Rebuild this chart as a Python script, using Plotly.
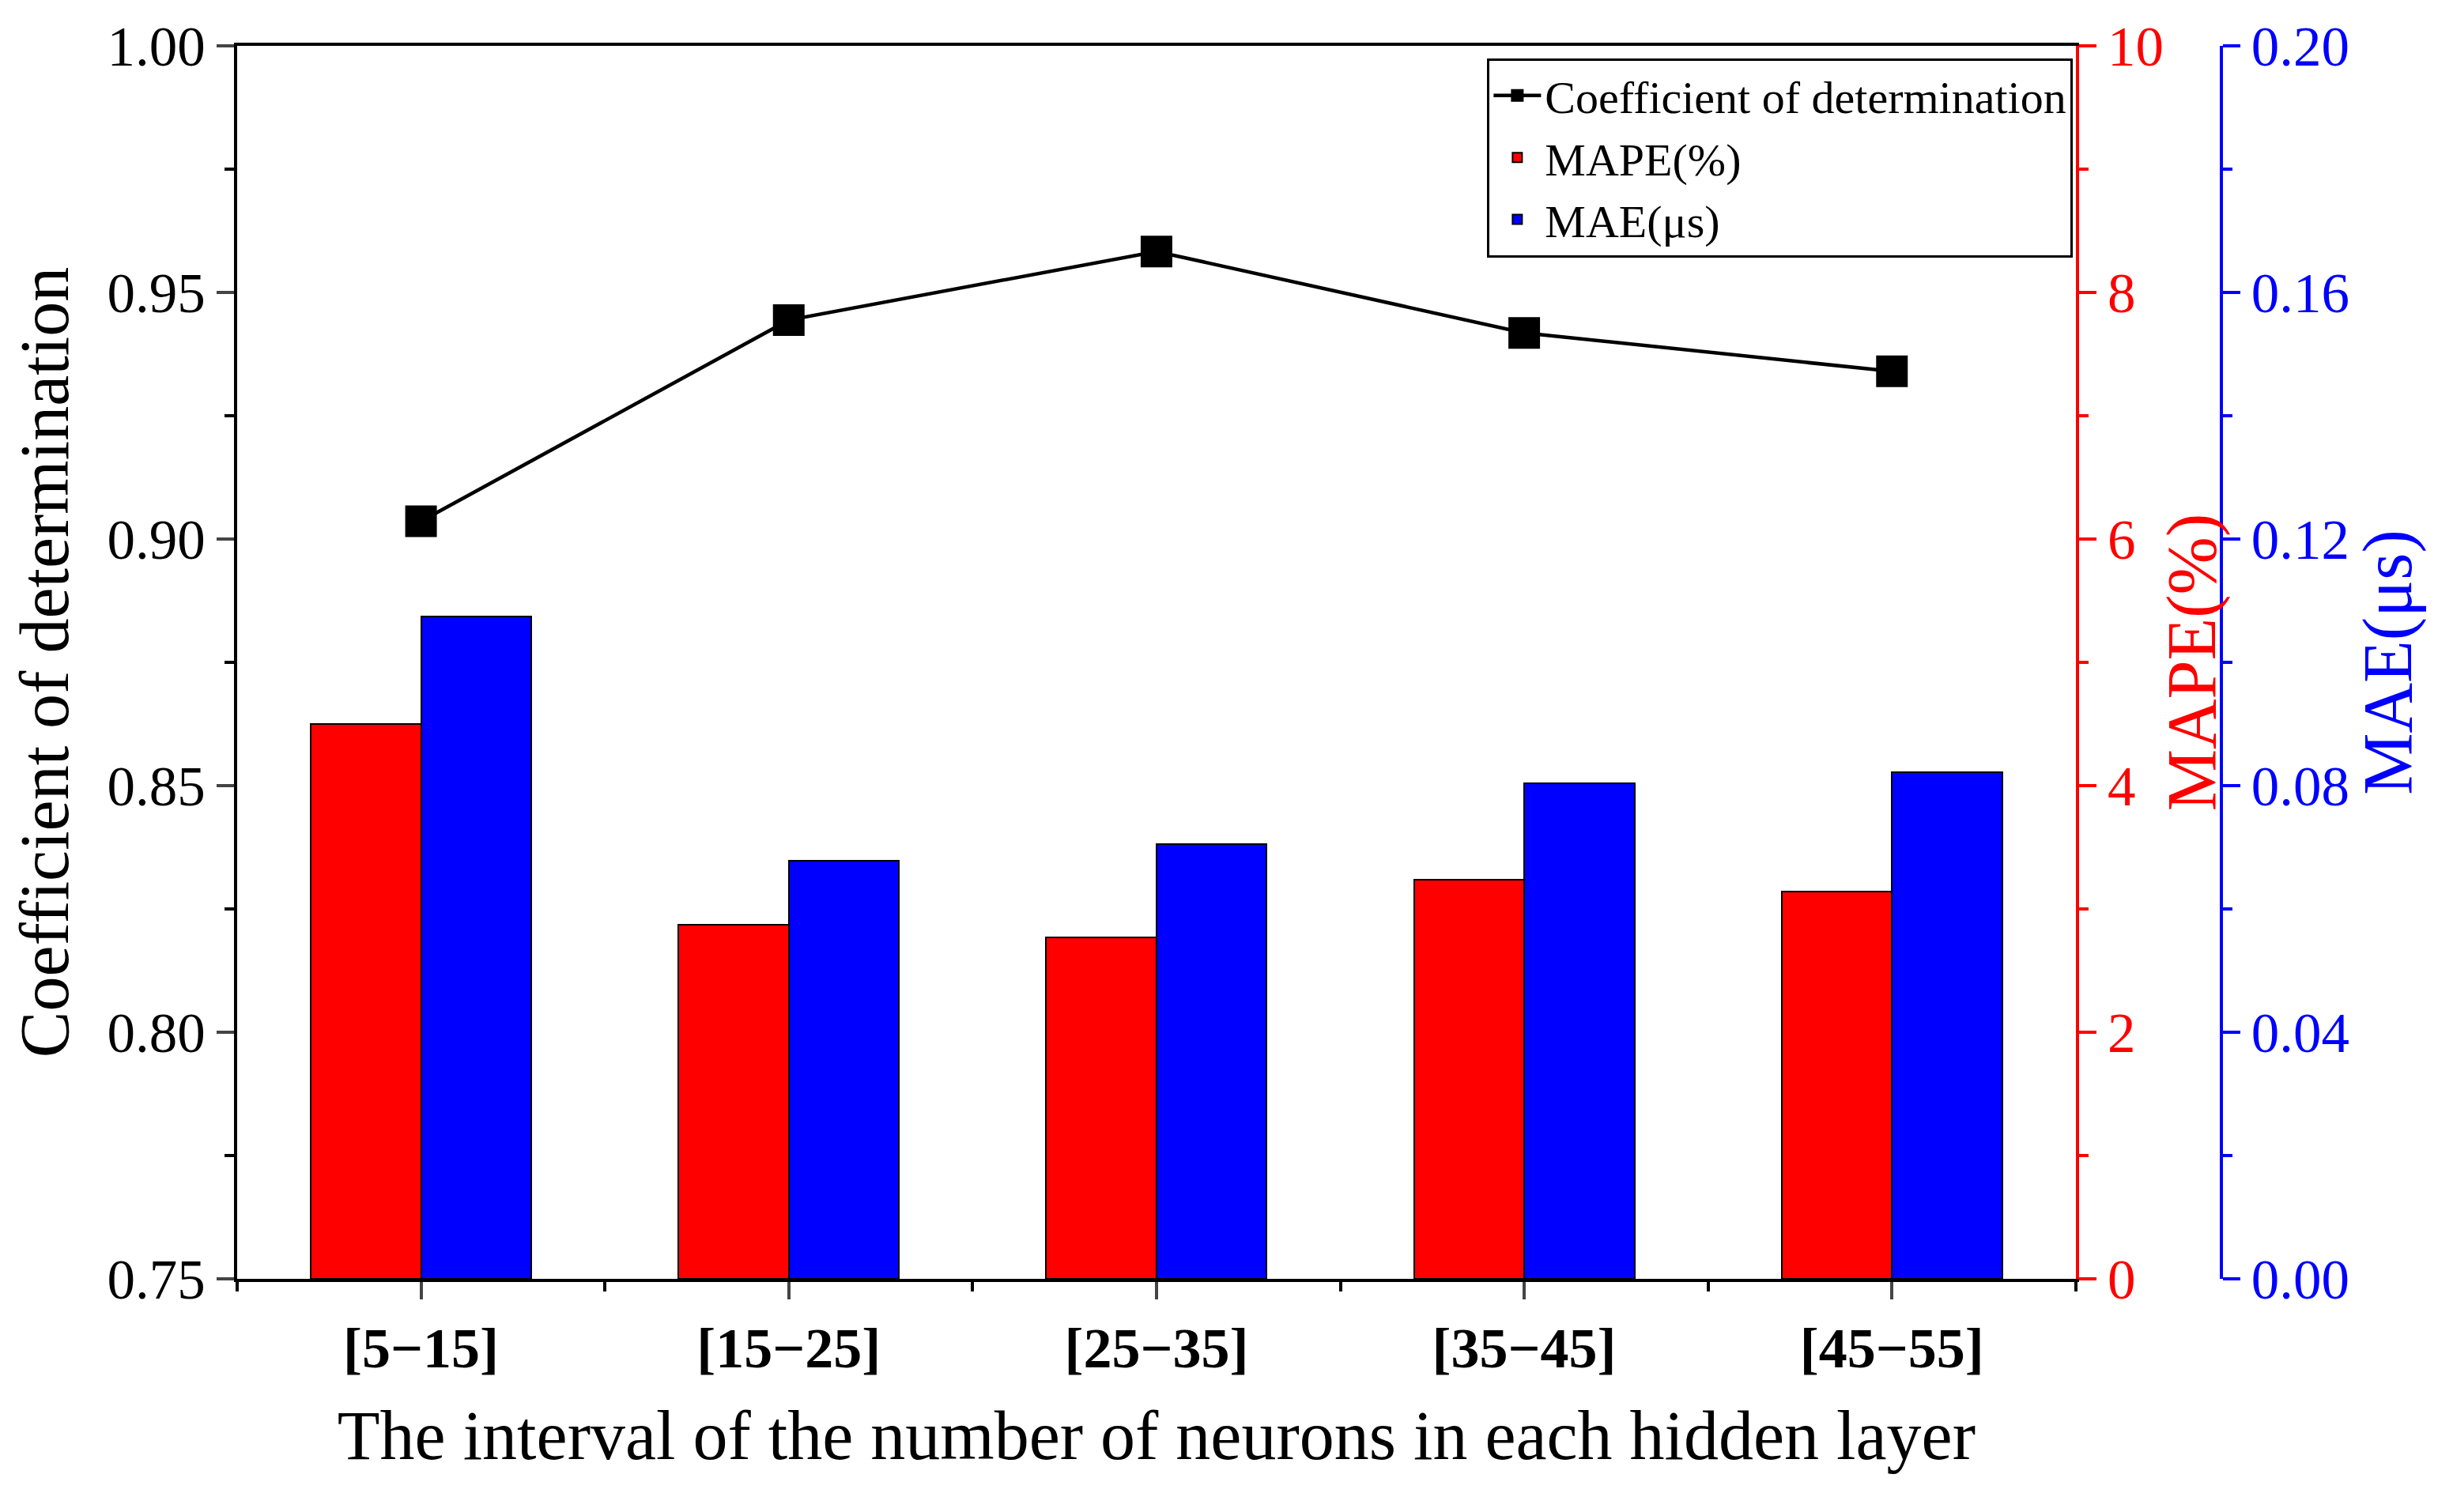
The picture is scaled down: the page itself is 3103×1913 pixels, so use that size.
import plotly.graph_objects as go

categories = ["[5\u221215]", "[15\u221225]", "[25\u221235]", "[35\u221245]", "[45\u221255]"]
r2 = [0.9036, 0.9444, 0.9583, 0.9418, 0.9340]
mape = [4.50, 2.87, 2.77, 3.24, 3.14]
mae = [0.1075, 0.0678, 0.0705, 0.0804, 0.0822]

xs = list(range(1, len(categories) + 1))
F = "Liberation Serif, Times New Roman, serif"
LW = 4
D = 0.9175

fig = go.Figure()
fig.add_trace(go.Scatter(x=xs, y=r2, name="Coefficient of determination", mode="lines+markers", legendrank=1,
                         line=dict(color="black", width=4.5), marker=dict(symbol="square", size=40, color="black")))
fig.add_trace(go.Bar(x=xs, y=mape, name="MAPE(%)", yaxis="y2", legendrank=2,
                     marker=dict(color="#ff0000", line=dict(color="black", width=2)), width=0.3, offset=-0.3))
fig.add_trace(go.Bar(x=xs, y=mae, name="MAE(\u03bcs)", yaxis="y3", legendrank=3,
                     marker=dict(color="#0000ff", line=dict(color="black", width=2)), width=0.3, offset=0))

tick = dict(ticks="outside", ticklen=22, tickwidth=LW, showgrid=False, zeroline=False, showline=True, linewidth=LW)
fig.update_layout(
    width=3103, height=1913, paper_bgcolor="white", plot_bgcolor="white",
    margin=dict(l=292, r=276, t=46, b=303),
    font=dict(family=F, size=71, color="black"),
    xaxis=dict(domain=[0, D], range=[0.5, 5.5], tickvals=xs, ticktext=["<b>%s</b>" % c for c in categories],
               linecolor="black", mirror=True, minor=dict(dtick=0.5, tick0=0.5, ticks="outside", ticklen=12, tickwidth=LW, tickcolor="black"),
               title=dict(text="The interval of the number of neurons in each hidden layer", font=dict(size=88), standoff=40),
               tickfont=dict(size=72), **tick),
    yaxis=dict(range=[0.75, 1.0], dtick=0.05, tickformat=".2f", linecolor="black",
               minor=dict(dtick=0.025, ticks="outside", ticklen=12, tickwidth=LW, tickcolor="black"),
               title=dict(text="Coefficient of determination", font=dict(size=88), standoff=25), **tick),
    yaxis2=dict(range=[0, 10], dtick=2, overlaying="y", side="right", anchor="x", linecolor="#ff0000", tickcolor="#ff0000",
                tickfont=dict(color="#ff0000"), minor=dict(dtick=1, ticks="outside", ticklen=12, tickwidth=LW, tickcolor="#ff0000"),
                title=dict(text="MAPE(%)", font=dict(size=88, color="#ff0000"), standoff=5), **tick),
    yaxis3=dict(range=[0, 0.2], dtick=0.04, tickformat=".2f", overlaying="y", side="right", anchor="free", position=0.99,
                linecolor="#0000ff", tickcolor="#0000ff", tickfont=dict(color="#0000ff"),
                minor=dict(dtick=0.02, ticks="outside", ticklen=12, tickwidth=LW, tickcolor="#0000ff"),
                title=dict(text="MAE(\u03bcs)", font=dict(size=88, color="#0000ff"), standoff=5), **tick),
    legend=dict(x=D * 0.9985, xanchor="right", y=0.99, yanchor="top", bordercolor="black", borderwidth=3,
                bgcolor="white", font=dict(size=58), traceorder="normal", tracegroupgap=0, itemwidth=60),
    showlegend=True, bargap=0,
)
fig.write_html("out.html")
